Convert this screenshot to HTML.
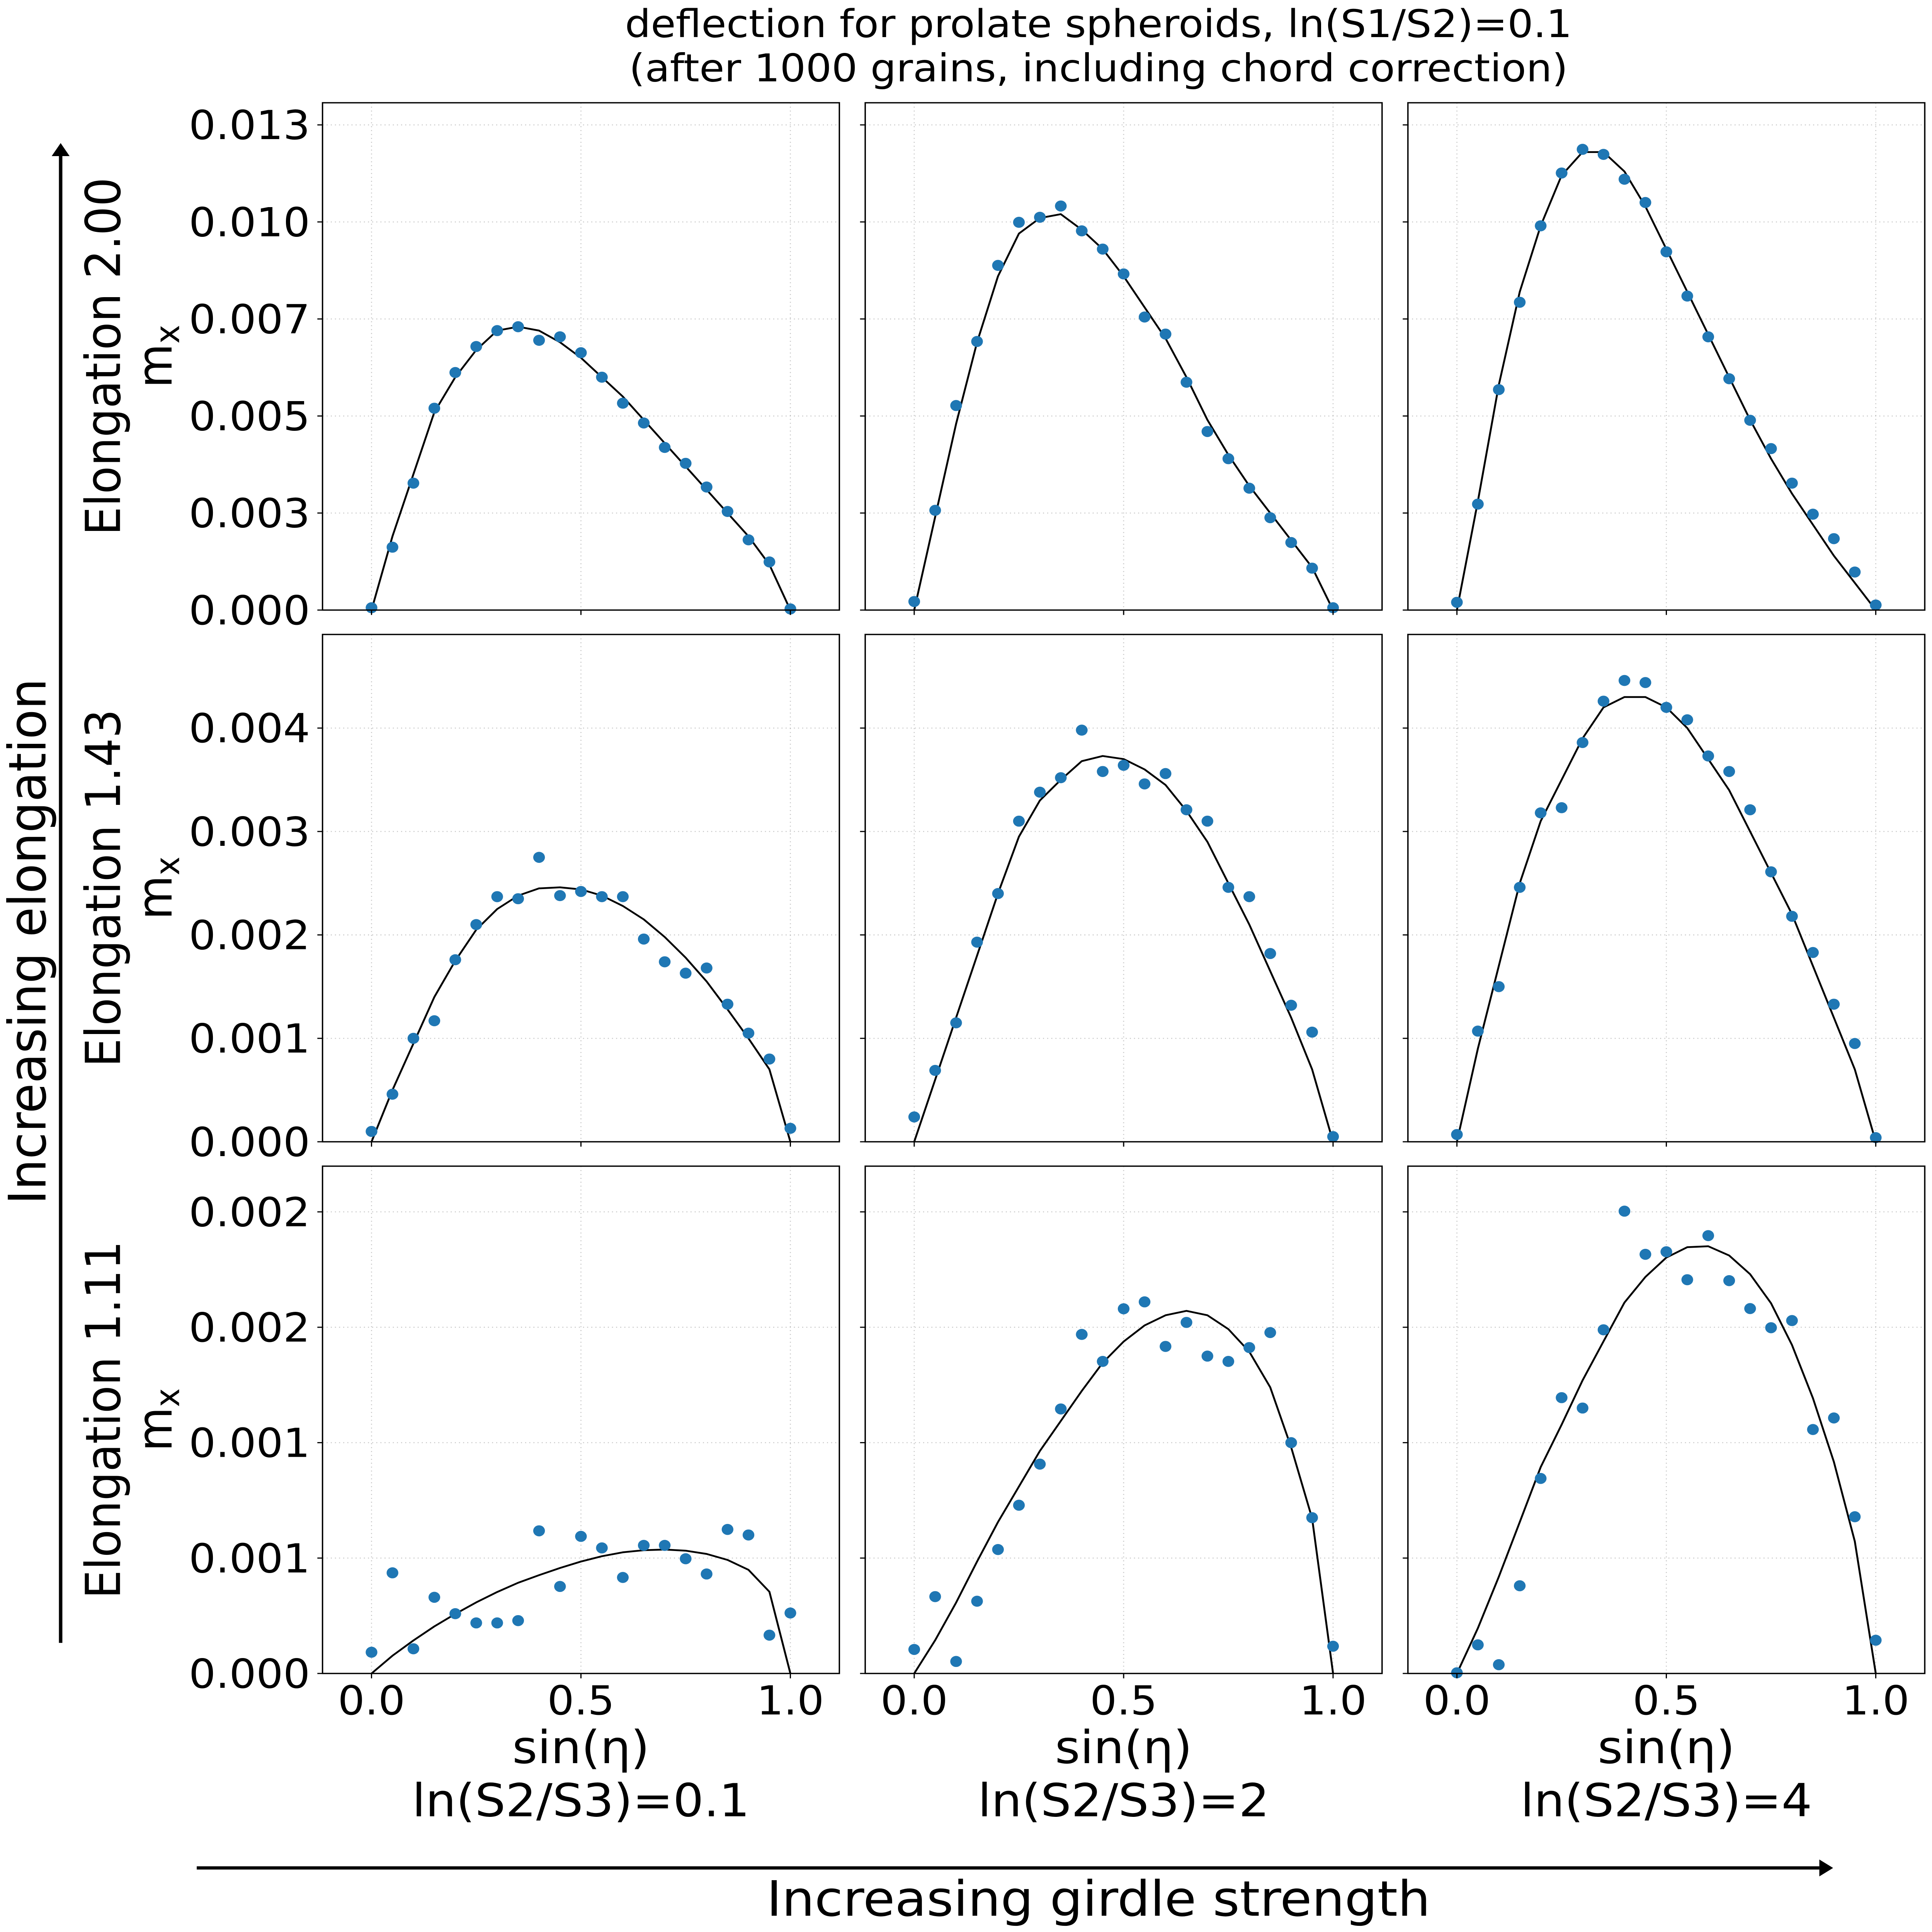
<!DOCTYPE html>
<html><head><meta charset="utf-8">
<style>
html,body{margin:0;padding:0;background:#fff;width:100%;height:100%;overflow:hidden;}
svg{display:block;width:100vw;height:100vh;font-family:"DejaVu Sans","Liberation Sans",sans-serif;}
</style></head>
<body>
<svg id="fig" viewBox="0 0 5607 5941" preserveAspectRatio="none" xmlns="http://www.w3.org/2000/svg">
<rect x="0" y="0" width="5607" height="5941" fill="#fff"/>
<g font-size="118" text-anchor="middle">
<text x="3188" y="114">deflection for prolate spheroids, ln(S1/S2)=0.1</text>
<text x="3188" y="250">(after 1000 grains, including chord correction)</text>
</g>
<g id="panels"></g>
<g>
<line x1="176" y1="5052" x2="176" y2="480" stroke="#000" stroke-width="10"/>
<polygon points="150,480 202,480 176,440" fill="#000"/>
</g>
<text font-size="150" text-anchor="middle" transform="translate(132,2895) rotate(-90)">Increasing elongation</text>
<g>
<line x1="571" y1="5744" x2="5280" y2="5744" stroke="#000" stroke-width="10"/>
<polygon points="5280,5718 5280,5770 5320,5744" fill="#000"/>
</g>
<text font-size="150" text-anchor="middle" x="3188" y="5891">Increasing girdle strength</text>
</svg>
<script>
// ---- data ----
const xValues = [0,0.05,0.1,0.15,0.2,0.25,0.3,0.35,0.4,0.45,0.5,0.55,0.6,0.65,0.7,0.75,0.8,0.85,0.9,0.95,1.0];
const xTicks = [0, 0.5, 1.0];
const xTickLabels = ["0.0","0.5","1.0"];
const rowLabels = ["Elongation 2.00","Elongation 1.43","Elongation 1.11"];
const colLabels = ["ln(S2/S3)=0.1","ln(S2/S3)=2","ln(S2/S3)=4"];
const yTicksRow1 = [0,0.0025,0.005,0.0075,0.01,0.0125];
const yTickLabelsRow1 = ["0.000","0.003","0.005","0.007","0.010","0.013"];
const yMaxRow1 = 0.01307;
const yTicksRow2 = [0,0.001,0.002,0.003,0.004];
const yTickLabelsRow2 = ["0.000","0.001","0.002","0.003","0.004"];
const yMaxRow2 = 0.004905;
const yTicksRow3 = [0,0.0005,0.001,0.0015,0.002];
const yTickLabelsRow3 = ["0.000","0.001","0.001","0.002","0.002"];
const yMaxRow3 = 0.002198;

const ptsR1C1 = [0.00006,0.00162,0.00327,0.0052,0.00612,0.00679,0.0072,0.0073,0.00695,0.00704,0.00663,0.006,0.00533,0.00482,0.00419,0.00378,0.00317,0.00254,0.00181,0.00124,0.00003];
const fitR1C1 = [0,0.0019,0.0035,0.0051,0.006,0.0067,0.0072,0.0073,0.0072,0.0069,0.0065,0.006,0.0055,0.0049,0.0043,0.0037,0.0031,0.0025,0.0019,0.00117,0];
const ptsR1C2 = [0.00022,0.00257,0.00527,0.00692,0.00888,0.00999,0.01012,0.01041,0.00977,0.0093,0.00866,0.00755,0.00711,0.00587,0.0046,0.0039,0.00314,0.00238,0.00174,0.00108,0.00006];
const fitR1C2 = [0,0.0024,0.0048,0.0069,0.0086,0.0097,0.0101,0.0102,0.0098,0.0093,0.0086,0.0078,0.007,0.006,0.0049,0.004,0.0032,0.0025,0.0018,0.0011,0];
const ptsR1C3 = [0.0002,0.00273,0.00568,0.00793,0.0099,0.01126,0.01187,0.01174,0.0111,0.0105,0.00923,0.00809,0.00704,0.00596,0.00489,0.00416,0.00327,0.00247,0.00184,0.00098,0.00013];
const fitR1C3 = [0,0.0028,0.0058,0.0082,0.0099,0.0112,0.0118,0.0118,0.0113,0.0104,0.0093,0.0082,0.0071,0.006,0.0049,0.0039,0.003,0.0022,0.0014,0.0007,0];
const ptsR2C1 = [0.0001,0.00046,0.001,0.00117,0.00176,0.0021,0.00237,0.00235,0.00275,0.00238,0.00242,0.00237,0.00237,0.00196,0.00174,0.00163,0.00168,0.00133,0.00105,0.0008,0.00013];
const fitR2C1 = [0,0.0005,0.00095,0.0014,0.00175,0.00205,0.00225,0.00238,0.00245,0.00246,0.00244,0.00238,0.00228,0.00215,0.00198,0.00178,0.00155,0.00128,0.001,0.0007,0];
const ptsR2C2 = [0.00024,0.00069,0.00115,0.00193,0.0024,0.0031,0.00338,0.00352,0.00398,0.00358,0.00364,0.00346,0.00356,0.00321,0.0031,0.00246,0.00237,0.00182,0.00132,0.00106,0.00005];
const fitR2C2 = [0,0.0006,0.0012,0.0018,0.0024,0.00295,0.0033,0.0035,0.00368,0.00373,0.0037,0.0036,0.00345,0.0032,0.0029,0.0025,0.0021,0.00165,0.0012,0.0007,0];
const ptsR2C3 = [0.00007,0.00107,0.0015,0.00246,0.00318,0.00323,0.00386,0.00426,0.00446,0.00444,0.0042,0.00408,0.00373,0.00358,0.00321,0.00261,0.00218,0.00183,0.00133,0.00095,0.00004];
const fitR2C3 = [0,0.0009,0.0017,0.0025,0.0031,0.0035,0.0039,0.0042,0.0043,0.0043,0.0042,0.004,0.0037,0.0034,0.003,0.0026,0.0022,0.0017,0.0012,0.0007,0];
const ptsR3C1 = [0.000092,0.000436,0.000107,0.00033,0.000259,0.000219,0.000219,0.000229,0.000618,0.000377,0.000594,0.000544,0.000416,0.000555,0.000555,0.000497,0.000431,0.000624,0.0006,0.000166,0.000262];
const fitR3C1 = [0,0.000077,0.000143,0.000204,0.000258,0.000308,0.000353,0.000393,0.000426,0.000457,0.000485,0.000508,0.000525,0.000534,0.000537,0.000532,0.000518,0.000492,0.000449,0.000354,0];
const ptsR3C2 = [0.000104,0.000333,0.000052,0.000313,0.000537,0.000729,0.000907,0.001146,0.001469,0.001352,0.00158,0.00161,0.001417,0.001521,0.001375,0.001352,0.001412,0.001477,0.001,0.000675,0.000118];
const fitR3C2 = [0,0.000144,0.000307,0.000485,0.000656,0.00081,0.000964,0.001094,0.001224,0.001346,0.001438,0.001508,0.001552,0.001571,0.001552,0.001492,0.001394,0.00124,0.00098,0.000672,0];
const ptsR3C3 = [0.000003,0.000124,0.000038,0.00038,0.000845,0.001195,0.00115,0.001489,0.002003,0.001816,0.001827,0.001706,0.001897,0.001702,0.001581,0.001498,0.001529,0.001057,0.001107,0.000679,0.000144];
const fitR3C3 = [0,0.000196,0.000419,0.000656,0.000894,0.001078,0.00127,0.001439,0.001607,0.001718,0.001802,0.001847,0.001851,0.001811,0.00173,0.001604,0.001423,0.001193,0.000917,0.000572,0];

// ---- layout ----
const colLeft = [936, 2511, 4086];
const rowTop = [316, 1951, 3586];
const PW = 1500, PH = 1560;
const XMIN = -0.117, XMAX = 1.117;
const rowsCfg = [
  {ticks: yTicksRow1, labels: yTickLabelsRow1, ymax: yMaxRow1, pts:[ptsR1C1,ptsR1C2,ptsR1C3], fit:[fitR1C1,fitR1C2,fitR1C3]},
  {ticks: yTicksRow2, labels: yTickLabelsRow2, ymax: yMaxRow2, pts:[ptsR2C1,ptsR2C2,ptsR2C3], fit:[fitR2C1,fitR2C2,fitR2C3]},
  {ticks: yTicksRow3, labels: yTickLabelsRow3, ymax: yMaxRow3, pts:[ptsR3C1,ptsR3C2,ptsR3C3], fit:[fitR3C1,fitR3C2,fitR3C3]}
];
const NS = "http://www.w3.org/2000/svg";
const root = document.getElementById('panels');
function mk(tag, attrs, parent){
  const e = document.createElementNS(NS, tag);
  for (const k in attrs) e.setAttribute(k, attrs[k]);
  parent.appendChild(e);
  return e;
}
rowsCfg.forEach((row, r) => {
  for (let c = 0; c < 3; c++) {
    const L = colLeft[c], T = rowTop[r];
    const sx = v => L + (v - XMIN) / (XMAX - XMIN) * PW;
    const sy = v => T + PH - v / row.ymax * PH;
    const g = mk('g', {}, root);
    
    
    xTicks.forEach(t => {
      const ln = mk('line', {x1:sx(t), x2:sx(t), y1:T, y2:T+PH, stroke:'#b0b0b0', 'stroke-width':3, 'stroke-dasharray':'3 9', opacity:0.7}, g);
      
      
    });
    row.ticks.forEach(t => {
      const ln = mk('line', {x1:L, x2:L+PW, y1:sy(t), y2:sy(t), stroke:'#b0b0b0', 'stroke-width':3, 'stroke-dasharray':'3 9', opacity:0.7}, g);
      
      
    });
    const d = row.fit[c].map((v,i) => (i?'L':'M') + sx(xValues[i]).toFixed(1) + ',' + sy(v).toFixed(1)).join(' ');
    const path = mk('path', {d:d, fill:'none', stroke:'#000', 'stroke-width':5.5, 'stroke-linejoin':'round'}, g);
    
    
    row.pts[c].forEach((v,i) => {
      const p = mk('circle', {cx:sx(xValues[i]), cy:sy(v), r:17, fill:'#1f77b4'}, g);
      
      
    });
    const fr = mk('rect', {x:L, y:T, width:PW, height:PH, fill:'none', stroke:'#000', 'stroke-width':4}, g);
    
    
    row.ticks.forEach((t,i) => {
      const tk = mk('line', {x1:L-15, x2:L, y1:sy(t), y2:sy(t), stroke:'#000', 'stroke-width':3.5}, g);
      
      
      if (c === 0) {
        const tl = mk('text', {x:L-36, y:sy(t)+44, 'font-size':123, 'text-anchor':'end'}, g);
        tl.textContent = row.labels[i];
        
        
      }
    });
    xTicks.forEach((t,i) => {
      const tk = mk('line', {x1:sx(t), x2:sx(t), y1:T+PH, y2:T+PH+15, stroke:'#000', 'stroke-width':3.5}, g);
      
      
      if (r === 2) {
        const tl = mk('text', {x:sx(t), y:5272, 'font-size':123, 'text-anchor':'middle'}, g);
        tl.textContent = xTickLabels[i];
        
        
      }
    });
    if (r === 2) {
      const xl = mk('text', {x:L+PW/2, y:5422, 'font-size':140, 'text-anchor':'middle'}, g);
      xl.textContent = 'sin(η)';
      
      
      const cl = mk('text', {x:L+PW/2, y:5585, 'font-size':140, 'text-anchor':'middle'}, g);
      cl.textContent = colLabels[c];
      
      
    }
    if (c === 0) {
      const cy = T + PH/2;
      const rl = mk('text', {'font-size':140, 'text-anchor':'middle', transform:'translate(348,' + cy + ') rotate(-90)'}, g);
      rl.textContent = rowLabels[r];
      
      
      const yl = mk('text', {'font-size':140, 'text-anchor':'middle', transform:'translate(498,' + cy + ') rotate(-90)'}, g);
      
      
      const m = mk('tspan', {}, yl); m.textContent = 'm';
      const sub = mk('tspan', {'font-size':98, dy:22}, yl); sub.textContent = 'x';
    }
  }
});
</script>
</body></html>
